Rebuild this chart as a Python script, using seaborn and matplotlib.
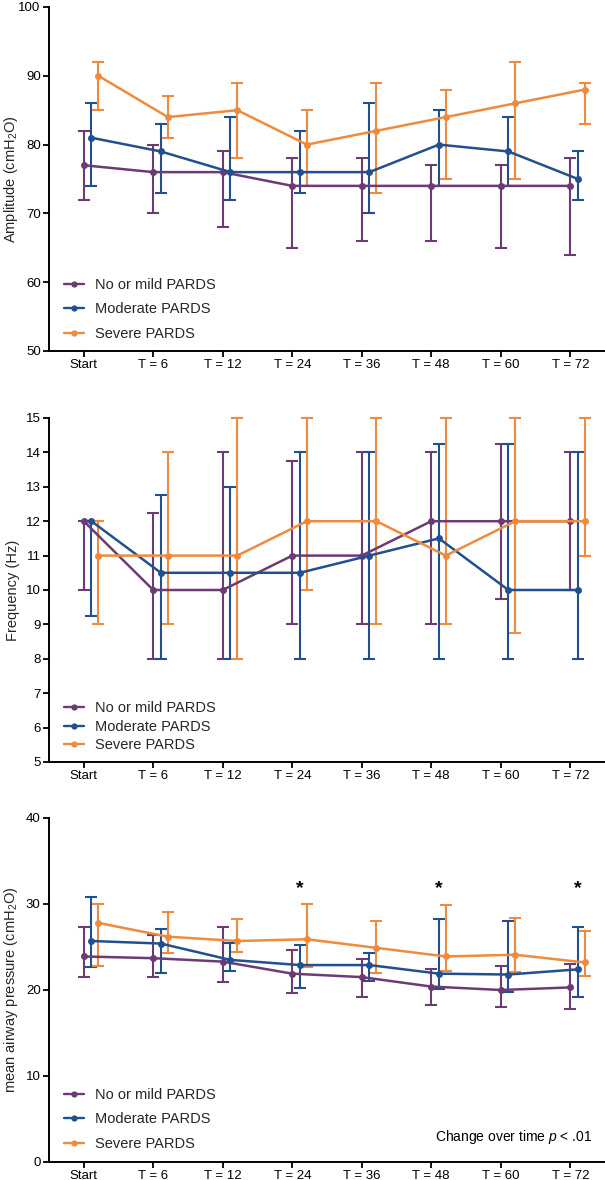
import numpy as np
import pandas as pd
import matplotlib
matplotlib.use("Agg")
import matplotlib.pyplot as plt
from matplotlib.lines import Line2D
import seaborn as sns

# ---------------- data ----------------
timepoints = ["Start", "T = 6", "T = 12", "T = 24", "T = 36", "T = 48", "T = 60", "T = 72"]
groups = ["No or mild PARDS", "Moderate PARDS", "Severe PARDS"]
colors = ["#6C3B74", "#22508F", "#EE8B3E"]

# Amplitude (cmH2O): median, lower, upper
amp_mild = [77, 76, 76, 74, 74, 74, 74, 74]
amp_mild_lo = [72, 70, 68, 65, 66, 66, 65, 64]
amp_mild_hi = [82, 80, 79, 78, 78, 77, 77, 78]
amp_mod = [81, 79, 76, 76, 76, 80, 79, 75]
amp_mod_lo = [74, 73, 72, 73, 70, 74, 74, 72]
amp_mod_hi = [86, 83, 84, 82, 86, 85, 84, 79]
amp_sev = [90, 84, 85, 80, 82, 84, 86, 88]
amp_sev_lo = [85, 81, 78, 74, 73, 75, 75, 83]
amp_sev_hi = [92, 87, 89, 85, 89, 88, 92, 89]

# Frequency (Hz)
frq_mild = [12, 10, 10, 11, 11, 12, 12, 12]
frq_mild_lo = [10, 8, 8, 9, 9, 9, 9.75, 10]
frq_mild_hi = [12, 12.25, 14, 13.75, 14, 14, 14.25, 14]
frq_mod = [12, 10.5, 10.5, 10.5, 11, 11.5, 10, 10]
frq_mod_lo = [9.25, 8, 8, 8, 8, 8, 8, 8]
frq_mod_hi = [12, 12.75, 13, 14, 14, 14.25, 14.25, 14]
frq_sev = [11, 11, 11, 12, 12, 11, 12, 12]
frq_sev_lo = [9, 9, 8, 10, 9, 9, 8.75, 11]
frq_sev_hi = [12, 14, 15, 15, 15, 15, 15, 15]

# mean airway pressure (cmH2O)
map_mild = [23.9, 23.7, 23.3, 21.9, 21.5, 20.4, 20.0, 20.3]
map_mild_lo = [21.5, 21.5, 20.9, 19.6, 19.2, 18.3, 18.0, 17.8]
map_mild_hi = [27.3, 26.4, 27.3, 24.6, 23.6, 22.5, 22.8, 23.0]
map_mod = [25.7, 25.4, 23.5, 22.9, 22.9, 21.9, 21.8, 22.4]
map_mod_lo = [22.7, 22.0, 22.2, 20.2, 21.0, 20.1, 19.8, 19.2]
map_mod_hi = [30.8, 27.1, 25.5, 25.2, 24.3, 28.2, 28.0, 27.3]
map_sev = [27.8, 26.2, 25.7, 25.9, 24.9, 23.9, 24.1, 23.2]
map_sev_lo = [22.8, 24.3, 24.4, 22.7, 22.0, 22.2, 22.1, 21.6]
map_sev_hi = [30.0, 29.1, 28.3, 30.0, 28.0, 29.9, 28.4, 26.9]

sig_timepoints = ["T = 24", "T = 48", "T = 72"]
sig_level = 31.8

# ---------------- style ----------------
sns.set_theme(style="ticks")
plt.rcParams["font.family"] = ["Liberation Sans", "DejaVu Sans"]
plt.rcParams["mathtext.fontset"] = "custom"
plt.rcParams["mathtext.rm"] = "Liberation Sans"
plt.rcParams["mathtext.it"] = "Liberation Sans:italic"

fig = plt.figure(figsize=(6.05, 11.8), dpi=100)
W, H = 605.0, 1180.0
left = 49 / W
width = 1.0 - left
panel_px = [(7, 351), (418, 762), (818, 1162)]
axes = [fig.add_axes([left, 1 - b / H, width, (b - t) / H]) for t, b in panel_px]

offsets = [0.0, 0.11, 0.21]


def draw_panel(ax, series, ylim, yticks, ylabel, labelspacing, legend_y):
    rows = []
    for gi, (g, (med, lo, hi)) in enumerate(zip(groups, series)):
        for i, tp in enumerate(timepoints):
            rows.append({"group": g, "time": tp, "pos": i + offsets[gi],
                         "value": med[i], "lo": lo[i], "hi": hi[i]})
    df = pd.DataFrame(rows)
    sns.lineplot(data=df, x="pos", y="value", hue="group", hue_order=groups,
                 palette=colors, marker="o", markersize=5, markeredgewidth=0,
                 linewidth=1.8, errorbar=None, legend=False, ax=ax, zorder=3)
    for g, c in zip(groups, colors):
        d = df[df.group == g]
        ax.errorbar(d["pos"], d["value"], yerr=[d["value"] - d["lo"], d["hi"] - d["value"]],
                    fmt="none", ecolor=c, elinewidth=1.5, capsize=4, capthick=1.5,
                    clip_on=False, zorder=2)
    ax.set_xlim(-0.5, 7.5)
    ax.set_ylim(*ylim)
    ax.set_yticks(yticks)
    ax.set_xticks(range(len(timepoints)))
    ax.set_xticklabels(timepoints)
    ax.set_xlabel("")
    ax.set_ylabel(ylabel, fontsize=10.5)
    ax.yaxis.set_label_coords(-0.052, 0.5)
    sns.despine(ax=ax)
    for s in ("left", "bottom"):
        ax.spines[s].set_linewidth(1.4)
        ax.spines[s].set_color("black")
    ax.tick_params(axis="both", direction="out", length=4, width=1.3, labelsize=9.5,
                   colors="black", pad=2)
    handles = [Line2D([0], [0], color=c, marker="o", markersize=4.5, markeredgewidth=0,
                      linewidth=1.7) for c in colors]
    ax.legend(handles, groups, loc="lower left", bbox_to_anchor=(0.027, legend_y),
              frameon=False, fontsize=10.5, handlelength=1.35, handletextpad=0.75,
              labelspacing=labelspacing, borderpad=0, borderaxespad=0)


draw_panel(axes[0],
           [(amp_mild, amp_mild_lo, amp_mild_hi), (amp_mod, amp_mod_lo, amp_mod_hi),
            (amp_sev, amp_sev_lo, amp_sev_hi)],
           (50, 100), [50, 60, 70, 80, 90, 100], "Amplitude (cmH$_2$O)", 0.72, 0.03)
draw_panel(axes[1],
           [(frq_mild, frq_mild_lo, frq_mild_hi), (frq_mod, frq_mod_lo, frq_mod_hi),
            (frq_sev, frq_sev_lo, frq_sev_hi)],
           (5, 15), list(range(5, 16)), "Frequency (Hz)", 0.32, 0.028)
draw_panel(axes[2],
           [(map_mild, map_mild_lo, map_mild_hi), (map_mod, map_mod_lo, map_mod_hi),
            (map_sev, map_sev_lo, map_sev_hi)],
           (0, 40), [0, 10, 20, 30, 40], "mean airway pressure (cmH$_2$O)", 0.72, 0.033)

ax3 = axes[2]
for tp in sig_timepoints:
    ax3.text(timepoints.index(tp) + 0.11, sig_level, "*", ha="center", va="center",
             fontsize=14, fontweight="bold", color="black")
ax3.text(0.978, 0.073, "Change over time $\\it{p}$ < .01", transform=ax3.transAxes,
         ha="right", va="center", fontsize=10, color="black")

fig.savefig("out.png", dpi=100)
